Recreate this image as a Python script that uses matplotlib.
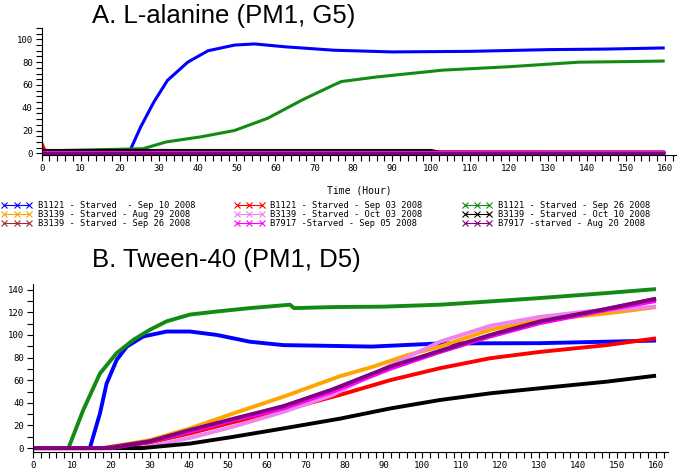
import numpy as np
import matplotlib.pyplot as plt
from matplotlib.lines import Line2D
from matplotlib.ticker import MultipleLocator

# Series labels / colours (legend is read row by row in the picture)
labels = ['B1121 - Starved  - Sep 10 2008', 'B1121 - Starved - Sep 03 2008',
          'B1121 - Starved - Sep 26 2008', 'B3139 - Starved - Aug 29 2008',
          'B3139 - Starved - Oct 03 2008', 'B3139 - Starved - Oct 10 2008',
          'B3139 - Starved - Sep 26 2008', 'B7917 -Starved - Sep 05 2008',
          'B7917 -starved - Aug 20 2008']
colors = ['#0000ff', '#ff0000', '#138a13', '#ffa500', '#ee82ee',
          '#000000', '#a52a2a', '#ff00ff', '#800080']

# Panel A: L-alanine (hour, value) per series
a_hours = [
    [0, 22.5, 25.4, 28.8, 32.3, 37.5, 42.7, 49.5, 54.7, 62.5, 75, 90, 110, 130, 145, 160],
    [0, 1, 160],
    [0, 26, 32, 41, 49.5, 58, 67, 75, 77, 86, 103, 120, 138, 150, 160],
    [0, 160],
    [0, 160],
    [0, 100, 102, 160],
    [0, 160],
    [0, 160],
    [0, 160],
]
a_values = [
    [1, 1, 23, 45, 64, 80, 90, 95, 96, 93.5, 90.5, 89, 89.5, 91, 91.5, 92.5],
    [9, 1.5, 1],
    [2, 4, 10, 14.5, 20, 30.7, 47, 60, 63, 67, 73, 76, 80, 80.5, 81],
    [1, 1],
    [1, 1],
    [2.5, 2.5, 1, 1],
    [1.5, 1.5],
    [0.8, 0.8],
    [0.5, 0.5],
]

# Panel B: Tween-40
b_hours = [
    [0, 14.6, 17.2, 18.9, 21.5, 24.1, 28.3, 34.3, 40.3, 47.2, 55.7, 64.3, 77, 87, 104.5, 130, 160],
    [0, 20, 30, 40.3, 51.5, 64.3, 78.8, 91.7, 104.5, 117.4, 130.2, 147.3, 160],
    [0, 9.1, 12.9, 17.2, 21.5, 25.8, 30, 34.3, 40.3, 47.2, 55.7, 66, 67, 77, 90, 104.5, 117.4, 130.2, 147.3, 160],
    [0, 18, 30, 40.3, 51.5, 64.3, 78.8, 87.4, 96, 104.5, 117.4, 130.2, 147.3, 160],
    [0, 28, 40.3, 51.5, 64.3, 77, 91.7, 104.5, 117.4, 130.2, 143, 160],
    [0, 28, 40.3, 51.5, 64.3, 78.8, 91.7, 104.5, 117.4, 130.2, 147.3, 160],
    [0, 18, 30, 40.3, 51.5, 64.3, 77, 91.7, 104.5, 117.4, 130.2, 147.3, 160],
    [0, 20, 30, 40.3, 51.5, 64.3, 77, 91.7, 104.5, 117.4, 130.2, 147.3, 160],
    [0, 20, 30, 40.3, 51.5, 64.3, 77, 91.7, 104.5, 117.4, 130.2, 147.3, 160],
]
b_values = [
    [0, 0, 30.7, 57, 78, 89.7, 98.6, 103, 103, 100, 94, 91, 90.3, 89.7, 92.5, 92.7, 95],
    [0, 0, 5, 13, 23, 33.6, 47, 60, 70.6, 79.4, 85, 91, 97],
    [0, 0, 33.6, 66, 84, 95.7, 104.5, 112, 118, 120.7, 123.7, 126.7, 123.7, 124.6, 125, 126.7, 129.6, 132.6, 137, 140.5],
    [0, 0, 7, 17.4, 30.7, 45.4, 63.5, 72, 82, 89.7, 104.5, 113, 119, 124.5],
    [0, 0, 9, 19, 32, 47, 73, 94, 108, 116, 121, 125],
    [0, 0, 4, 10, 17.4, 26, 35, 42.5, 48.4, 52.9, 58.7, 64],
    [0, 0, 6, 15, 25, 37, 51, 71, 85, 99, 111, 123, 132],
    [0, 0, 5.6, 14.5, 24.8, 35, 50, 70, 85, 98.6, 110.4, 122, 130],
    [0, 0, 6, 16, 26, 37, 52, 72, 86, 100, 112, 123, 132],
]

mono = 'DejaVu Sans Mono'

fig = plt.figure(figsize=(6.8, 4.74), dpi=100)
ax_a = fig.add_axes([41.7 / 680, 1 - 155 / 474, 634.7 / 680, (155 - 28) / 474])
ax_b = fig.add_axes([33 / 680, 1 - 451.5 / 474, 634.7 / 680, (451.5 - 284) / 474])


def style_axis(ax, ymax, ymin, ymajor, yminor):
    ax.set_xlim(0, 163)
    ax.set_ylim(ymin, ymax)
    ax.spines['top'].set_visible(False)
    ax.spines['right'].set_visible(False)
    ax.xaxis.set_major_locator(MultipleLocator(10))
    ax.xaxis.set_minor_locator(MultipleLocator(2))
    ax.yaxis.set_major_locator(MultipleLocator(ymajor))
    ax.yaxis.set_minor_locator(MultipleLocator(yminor))
    ax.set_xticks(np.arange(0, 161, 10))
    ax.set_yticks(np.arange(0, ymax, ymajor))
    ax.tick_params(which='both', direction='out', length=4, width=0.8, pad=2.5,
                   labelsize=6.5)
    for lab in ax.get_xticklabels() + ax.get_yticklabels():
        lab.set_family(mono)


for i in range(len(labels)):
    ax_a.plot(a_hours[i], a_values[i], color=colors[i], lw=2.2, solid_capstyle='butt')
    ax_b.plot(b_hours[i], b_values[i], color=colors[i], lw=2.8, solid_capstyle='butt')

style_axis(ax_a, 110, -1.5, 20, 5)
style_axis(ax_b, 145, -3, 20, 10)
ax_a.set_xlabel('Time (Hour)', family=mono, fontsize=7, labelpad=9)

fig.text(92 / 680, 1 - 23 / 474, 'A. L-alanine (PM1, G5)', family='Liberation Sans',
         fontsize=18.5, va='baseline', ha='left')
fig.text(92 / 680, 1 - 267 / 474, 'B. Tween-40 (PM1, D5)', family='Liberation Sans',
         fontsize=18.5, va='baseline', ha='left')

# legend: matplotlib fills columns first, picture reads row by row
order = [0, 3, 6, 1, 4, 7, 2, 5, 8]
handles = [Line2D([], [], color=colors[i], lw=0.8, marker='x', markersize=4,
                  markeredgewidth=0.8) for i in order]
fig.legend(handles, [labels[i] for i in order], ncol=3, loc='upper left',
           bbox_to_anchor=(0.0, 1 - 199 / 474), frameon=False,
           prop={'family': mono, 'size': 6.3}, numpoints=3, handlelength=3.4,
           handletextpad=0.7, columnspacing=4.5, labelspacing=0.0,
           borderpad=0, borderaxespad=0.2)

fig.savefig('out.png', dpi=100)
